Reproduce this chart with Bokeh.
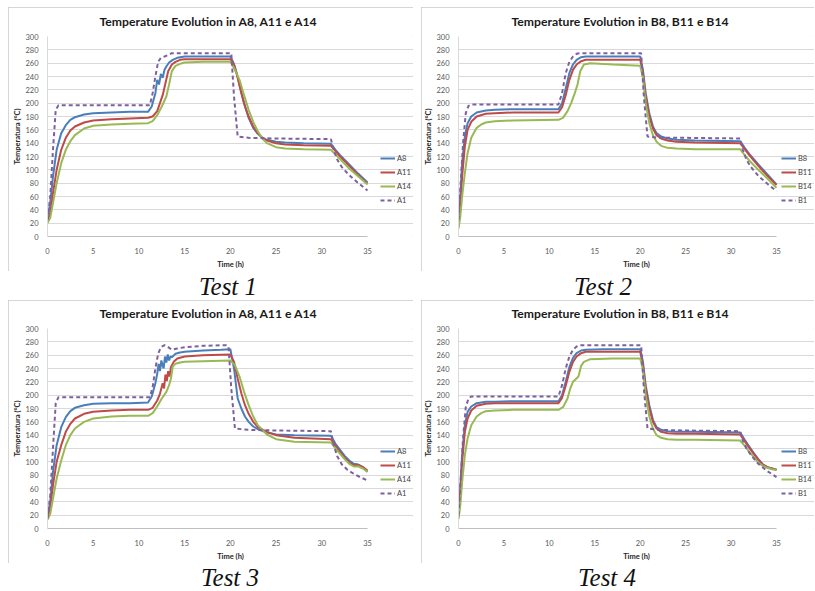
from bokeh.plotting import figure
from bokeh.models import Legend, LegendItem, Div, FixedTicker
from bokeh.layouts import column, row
from bokeh.embed import file_html
from bokeh.resources import INLINE

# ---------------- data ----------------
# Test 1
t1_a8 = [0, 0.3, 0.6, 1.0, 1.5, 2, 2.5, 3, 4, 5, 7, 9, 11, 11.4, 11.8, 12.0, 12.2, 12.4, 12.6, 12.8, 13.0, 13.3, 13.7, 14.2, 15, 17, 20, 20.3, 20.7, 21.1, 21.5, 22, 22.5, 23, 23.5, 24, 25, 26, 28, 31, 31.5, 32, 33, 34, 35]
T1_a8 = [30, 50, 90, 130, 155, 167, 175, 179, 183, 185, 186, 187, 187, 195, 215, 235, 228, 244, 238, 250, 255, 261, 265, 268, 270, 270, 270, 262, 245, 222, 200, 178, 163, 154, 148, 145, 142, 141, 140, 139, 130, 122, 108, 94, 81]
t1_a11 = [0, 0.3, 0.6, 1.0, 1.5, 2, 2.5, 3, 4, 5, 7, 9, 11, 11.5, 12, 12.3, 12.6, 12.9, 13.2, 13.6, 14, 14.5, 15, 17, 20, 20.4, 20.8, 21.2, 21.6, 22, 22.5, 23, 23.5, 24, 25, 26, 28, 31, 31.5, 32, 33, 34, 35]
T1_a11 = [22, 35, 65, 100, 130, 148, 159, 165, 171, 174, 176, 177, 178, 180, 188, 200, 212, 230, 248, 258, 262, 265, 266, 266, 266, 258, 238, 215, 195, 180, 165, 155, 148, 144, 140, 138, 137, 136, 128, 120, 106, 92, 79]
t1_a14 = [0, 0.3, 0.6, 1.0, 1.5, 2, 2.5, 3, 4, 5, 7, 9, 11, 11.5, 12, 12.5, 13, 13.3, 13.6, 14, 14.5, 15, 17, 20, 20.5, 21, 21.5, 22, 22.5, 23, 23.5, 24, 25, 26, 28, 31, 31.5, 32, 33, 34, 35]
T1_a14 = [20, 28, 50, 80, 110, 130, 143, 152, 162, 166, 168, 169, 170, 173, 182, 195, 210, 228, 248, 256, 259, 261, 262, 262, 250, 235, 212, 190, 172, 158, 147, 140, 134, 132, 131, 130, 123, 116, 102, 90, 78]
t1_a1 = [0, 0.3, 0.6, 0.9, 1.2, 11.2, 11.5, 11.8, 12.1, 12.4, 12.8, 13.3, 13.6, 20.1, 20.4, 20.8, 22, 25, 31, 31.3, 31.7, 32.2, 33, 34, 35]
T1_a1 = [25, 60, 130, 190, 197, 197, 215, 240, 262, 268, 270, 273, 275, 275, 210, 150, 148, 147, 146, 130, 115, 104, 92, 80, 69]

# Test 2
t2_b8 = [0, 0.2, 0.4, 0.7, 1.0, 1.4, 2, 3, 4, 6, 11, 11.4, 11.8, 12.2, 12.6, 13, 13.5, 14, 16, 20, 20.3, 20.6, 21, 21.4, 21.8, 22.3, 23, 24, 26, 31, 31.5, 32, 33, 34, 35]
T2_b8 = [20, 60, 110, 150, 170, 180, 186, 189, 190, 191, 191, 200, 222, 245, 258, 265, 269, 270, 270, 270, 250, 215, 185, 165, 155, 150, 147, 145, 144, 143, 133, 124, 108, 93, 78]
t2_b11 = [0, 0.2, 0.4, 0.7, 1.0, 1.4, 2, 3, 4, 6, 11, 11.4, 11.8, 12.2, 12.6, 13, 13.5, 14, 16, 20, 20.3, 20.6, 21, 21.4, 21.8, 22.3, 23, 24, 26, 31, 31.5, 32, 33, 34, 35]
T2_b11 = [15, 45, 90, 135, 160, 172, 180, 184, 185, 186, 186, 194, 212, 235, 250, 258, 263, 265, 265, 265, 245, 210, 180, 162, 152, 147, 144, 142, 141, 140, 131, 122, 106, 91, 77]
t2_b14 = [0, 0.2, 0.4, 0.7, 1.0, 1.4, 2, 2.5, 3, 4, 6, 11, 11.5, 12, 12.4, 12.8, 13.1, 13.4, 13.8, 14.5, 17, 20, 20.3, 20.6, 21, 21.4, 21.8, 22.3, 23, 24, 26, 31, 31.5, 32, 33, 34, 35]
T2_b14 = [12, 30, 60, 95, 125, 148, 163, 168, 171, 173, 174, 175, 178, 188, 200, 215, 228, 248, 258, 260, 258, 256, 238, 200, 170, 152, 142, 136, 133, 132, 131, 131, 122, 114, 100, 87, 73]
t2_b1 = [0, 0.2, 0.5, 0.8, 1.1, 1.4, 11.0, 11.4, 11.8, 12.2, 12.6, 13.0, 13.3, 20.1, 20.4, 20.8, 22, 25, 31, 31.3, 31.7, 32.2, 33, 34, 35]
T2_b1 = [25, 70, 140, 185, 196, 198, 198, 215, 245, 262, 270, 274, 275, 275, 210, 150, 148, 148, 147, 130, 115, 104, 91, 79, 68]

# Test 3
t3_a8 = [0, 0.3, 0.6, 1.0, 1.5, 2, 2.5, 3, 4, 5, 7, 9, 11, 11.4, 11.8, 12.0, 12.15, 12.3, 12.45, 12.6, 12.7, 12.85, 13.0, 13.15, 13.3, 13.45, 13.6, 14, 14.5, 15, 17, 19, 20, 20.4, 20.8, 21.2, 21.6, 22, 22.5, 23, 24, 25, 27, 31, 31.5, 32, 32.5, 33, 33.5, 34, 34.5, 35]
T3_a8 = [20, 40, 85, 125, 152, 167, 176, 181, 185, 187, 188, 188, 189, 198, 218, 232, 247, 236, 252, 244, 240, 258, 249, 261, 252, 258, 257, 262, 264, 265, 267, 268, 269, 240, 195, 180, 168, 160, 153, 149, 144, 141, 140, 139, 127, 118, 109, 102, 97, 96, 92, 85]
t3_a11 = [0, 0.3, 0.6, 1.0, 1.5, 2, 2.5, 3, 4, 5, 7, 9, 11, 11.5, 12, 12.3, 12.6, 12.75, 12.9, 13.05, 13.2, 13.35, 13.5, 13.8, 14.2, 15, 17, 20, 20.4, 20.8, 21.2, 21.6, 22, 22.5, 23, 24, 25, 27, 31, 31.5, 32, 32.5, 33, 33.5, 34, 34.5, 35]
T3_a11 = [16, 30, 65, 100, 125, 145, 157, 165, 172, 175, 177, 178, 178, 181, 192, 202, 218, 210, 231, 221, 236, 228, 242, 250, 255, 258, 260, 261, 250, 225, 203, 185, 172, 160, 152, 145, 140, 136, 134, 124, 115, 106, 99, 95, 95, 92, 87]
t3_a14 = [0, 0.3, 0.6, 1.0, 1.5, 2, 2.5, 3, 4, 5, 7, 9, 11, 11.5, 12, 12.5, 13, 13.3, 13.5, 13.7, 14, 14.5, 15, 17, 20, 20.5, 21, 21.5, 22, 22.5, 23, 24, 25, 27, 31, 31.5, 32, 32.5, 33, 33.5, 34, 34.5, 35]
T3_a14 = [13, 22, 45, 75, 102, 125, 140, 150, 160, 165, 168, 169, 169, 173, 183, 195, 205, 215, 225, 243, 247, 249, 250, 251, 252, 245, 228, 205, 185, 168, 155, 141, 134, 130, 129, 120, 112, 104, 97, 93, 93, 90, 85]
t3_a1 = [0, 0.3, 0.6, 0.9, 1.2, 11.2, 11.5, 11.8, 12.1, 12.4, 12.8, 13.2, 13.6, 14.2, 15, 17, 19.5, 19.8, 20.1, 20.5, 22, 25, 31, 31.3, 31.7, 32.2, 32.8, 33.5, 34.2, 35]
T3_a1 = [15, 50, 120, 188, 197, 197, 212, 240, 262, 272, 275, 272, 268, 270, 272, 274, 275, 273, 210, 150, 148, 147, 146, 125, 108, 96, 88, 82, 77, 72]

# Test 4
t4_b8 = [0, 0.2, 0.4, 0.7, 1.0, 1.4, 2, 3, 4, 6, 11, 11.4, 11.8, 12.2, 12.6, 13, 13.5, 14, 16, 20, 20.3, 20.6, 21, 21.4, 21.8, 22.3, 23, 24, 26, 31, 31.5, 32, 32.5, 33, 33.5, 34, 34.5, 35]
T4_b8 = [18, 60, 110, 155, 175, 183, 188, 190, 190, 191, 191, 200, 220, 242, 256, 263, 267, 268, 269, 269, 250, 215, 185, 163, 152, 148, 146, 145, 145, 144, 133, 123, 113, 104, 96, 92, 90, 88]
t4_b11 = [0, 0.2, 0.4, 0.7, 1.0, 1.4, 2, 3, 4, 6, 11, 11.4, 11.8, 12.2, 12.6, 13, 13.5, 14, 16, 20, 20.3, 20.6, 21, 21.4, 21.8, 22.3, 23, 24, 26, 31, 31.5, 32, 32.5, 33, 33.5, 34, 34.5, 35]
T4_b11 = [17, 55, 100, 145, 165, 177, 184, 187, 188, 188, 188, 196, 214, 235, 250, 258, 263, 265, 265, 265, 245, 210, 180, 160, 150, 145, 143, 142, 142, 141, 131, 121, 112, 103, 96, 92, 90, 88]
t4_b14 = [0, 0.2, 0.4, 0.7, 1.0, 1.4, 2, 2.5, 3, 4, 6, 11, 11.5, 12, 12.3, 12.6, 12.9, 13.2, 13.5, 13.8, 14.5, 17, 20, 20.3, 20.6, 21, 21.4, 21.8, 22.3, 23, 24, 26, 31, 31.5, 32, 32.5, 33, 33.5, 34, 34.5, 35]
T4_b14 = [14, 35, 70, 110, 135, 155, 168, 173, 176, 177, 178, 178, 182, 195, 210, 220, 224, 228, 244, 250, 254, 255, 255, 238, 200, 168, 150, 140, 136, 134, 133, 133, 132, 124, 115, 107, 99, 94, 91, 89, 88]
t4_b1 = [0, 0.2, 0.5, 0.8, 1.1, 1.4, 11.0, 11.4, 11.8, 12.2, 12.6, 13.0, 13.3, 20.1, 20.4, 20.8, 22, 25, 31, 31.3, 31.7, 32.2, 33, 34, 35]
T4_b1 = [20, 65, 135, 182, 195, 198, 198, 215, 240, 258, 268, 273, 275, 275, 210, 150, 148, 147, 146, 132, 120, 110, 97, 86, 77]

titles = ["Temperature Evolution in A8, A11 e A14", "Temperature Evolution in B8, B11 e B14",
          "Temperature Evolution in A8, A11 e A14", "Temperature Evolution in B8, B11 e B14"]
labels_a = ["A8", "A11", "A14", "A1"]
labels_b = ["B8", "B11", "B14", "B1"]
captions = ["Test 1", "Test 2", "Test 3", "Test 4"]
x_ticks = [0, 5, 10, 15, 20, 25, 30, 35]
y_ticks = list(range(0, 301, 20))
X_MAX = 35

COLORS = ["#4A7EBB", "#BE4B48", "#98B954", "#7D60A0"]
FONT = "Lato"


def make_panel(title, series, labels, width, height, left, data_w, top, bottom,
               leg_x, leg_y, title_off):
    frame_w = width - left
    x_end = X_MAX * frame_w / data_w  # extra room on the right of the frame for the legend
    p = figure(width=width, height=height, x_range=(0, x_end), y_range=(0, 300),
               output_backend="svg", toolbar_location=None,
               min_border_left=left, min_border_right=0,
               min_border_top=top, min_border_bottom=bottom,
               background_fill_color="white", border_fill_color="white")
    p.outline_line_color = None
    p.styles = {"outline": "1px solid #c9c9c9", "outline-offset": "-1px"}
    p.title.text = title
    p.title.align = "left"
    p.title.offset = title_off
    p.title.vertical_align = "top"
    p.title.text_font = FONT
    p.title.text_font_size = "12.2px"
    p.title.text_font_style = "bold"
    p.title.text_color = "#1a1a1a"
    p.title.standoff = 11

    p.xgrid.visible = False
    p.ygrid.grid_line_color = "#d9d9d9"
    p.ygrid.grid_line_width = 1
    p.ygrid.bounds = (0, X_MAX)

    p.xaxis.ticker = FixedTicker(ticks=x_ticks)
    p.yaxis.ticker = FixedTicker(ticks=y_ticks)
    p.xaxis.bounds = (0, X_MAX)
    for ax in (p.xaxis, p.yaxis):
        ax.major_tick_line_color = None
        ax.minor_tick_line_color = None
        ax.major_label_text_font = FONT
        ax.major_label_text_font_size = "7.5px"
        ax.major_label_text_color = "#595959"
        ax.axis_label_text_font = FONT
        ax.axis_label_text_font_size = "7.5px"
        ax.axis_label_text_font_style = "bold"
        ax.axis_label_text_color = "#262626"
    p.xaxis.axis_label = "Time (h)"
    p.yaxis.axis_label = "Temperatura (°C)"
    p.xaxis.axis_line_color = "#bfbfbf"
    p.yaxis.axis_line_color = "#d9d9d9"
    p.xaxis.major_label_standoff = 5
    p.yaxis.major_label_standoff = 3
    p.xaxis.axis_label_standoff = 3
    p.yaxis.axis_label_standoff = 0

    items = []
    for (tx, ty), lab, col in zip(series, labels, COLORS):
        dash = "4 3" if col == COLORS[3] else "solid"
        r = p.line(tx, ty, line_color=col, line_width=2, line_dash=dash)
        items.append(LegendItem(label=lab, renderers=[r]))
    leg = Legend(items=items, location=(leg_x, leg_y), border_line_color=None,
                 background_fill_alpha=0, padding=0, margin=0, spacing=2,
                 glyph_width=15, glyph_height=12, label_height=12, label_standoff=2,
                 label_text_font=FONT, label_text_font_size="7.5px",
                 label_text_color="#404040")
    p.add_layout(leg)
    return p


p1 = make_panel(titles[0], [(t1_a8, T1_a8), (t1_a11, T1_a11), (t1_a14, T1_a14), (t1_a1, T1_a1)],
                labels_a, 405, 264, 39, 320, 29, 33, 333, 30, 52)
p2 = make_panel(titles[1], [(t2_b8, T2_b8), (t2_b11, T2_b11), (t2_b14, T2_b14), (t2_b1, T2_b1)],
                labels_b, 393, 264, 37, 318, 29, 33, 323, 30, 53)
p3 = make_panel(titles[2], [(t3_a8, T3_a8), (t3_a11, T3_a11), (t3_a14, T3_a14), (t3_a1, T3_a1)],
                labels_a, 405, 263, 39, 320, 28, 33, 333, 29, 52)
p4 = make_panel(titles[3], [(t4_b8, T4_b8), (t4_b11, T4_b11), (t4_b14, T4_b14), (t4_b1, T4_b1)],
                labels_b, 393, 263, 37, 318, 28, 33, 323, 29, 53)


def caption(text, width, height, lh):
    return Div(text=text, width=width, height=height, margin=0,
               styles={"font-family": "Liberation Serif", "font-style": "italic",
                       "font-size": "25px", "line-height": f"{lh}px",
                       "text-align": "center", "color": "#111111"})


cap1 = row(caption(captions[0], 440, 29, 32), caption(captions[1], 310, 29, 32), spacing=0)
cap2 = row(caption(captions[2], 444, 27, 29), caption(captions[3], 310, 27, 29), spacing=0)

layout = column(row(p1, p2, spacing=8), cap1, row(p3, p4, spacing=8), cap2, spacing=0,
                margin=(7, 0, 0, 8))

open("out.html", "w").write(file_html(layout, INLINE))
